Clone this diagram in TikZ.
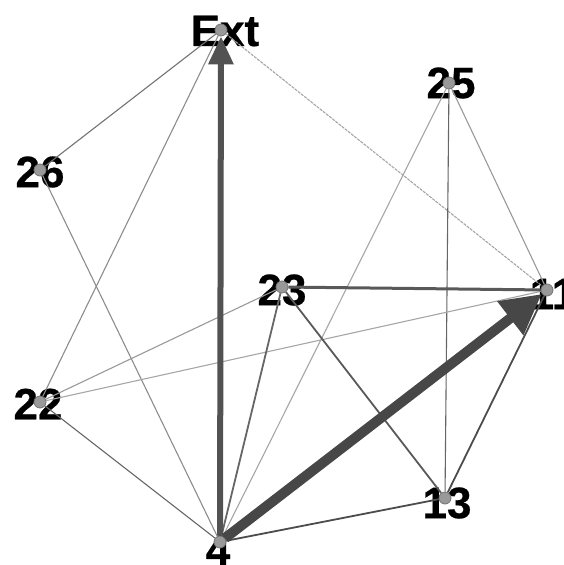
\documentclass[tikz,border=0pt]{standalone}
\usepackage{fontspec}
\setmainfont{Liberation Sans}[BoldFeatures={FakeBold=0.6}]
\usetikzlibrary{arrows.meta}
\pgfdeclarelayer{labels}
\pgfdeclarelayer{edges}
\pgfsetlayers{labels,edges,main}
\tikzset{
  vtx/.style={circle, inner sep=0pt, minimum size=12pt, fill=black!40, draw=black!55, line width=0.8pt},
  vlabel/.style={inner sep=0pt, font=\fontsize{44}{44}\selectfont\bfseries, text=black},
  thinedge/.style={line width=1.1pt, draw=black!#1},
  midedge/.style={line width=1.8pt, draw=black!#1},
  flowA/.style={line width=6pt, draw=black!68, -{Triangle[length=28pt,width=24pt]}},
  flowB/.style={line width=10pt, draw=black!72, -{Triangle[length=40pt,width=40pt]}},
}
\begin{document}
\begin{tikzpicture}[x=1pt,y=-1pt]
\useasboundingbox (0,0) rectangle (564,565);
% vertices
\node[vtx] (ext) at (221,30) {};
\node[vtx] (n25) at (449,83) {};
\node[vtx] (n26) at (40,170) {};
\node[vtx] (n23) at (282,287) {};
\node[vtx] (n11) at (547,290) {};
\node[vtx] (n22) at (40,402) {};
\node[vtx] (n13) at (445,498) {};
\node[vtx] (n4)  at (220,542) {};
% vertex labels
\begin{pgfonlayer}{labels}
\node[vlabel] (lext) at (225,31) {Ext};
\node[vlabel] (l25) at (451,83) {25};
\node[vlabel] (l26) at (40,172) {26};
\node[vlabel] (l23) at (282,290) {23};
\node[vlabel] (l11) at (553,294) {11};
\node[vlabel] (l22) at (38,404) {22};
\node[vlabel] (l13) at (447,503) {13};
\node[vlabel] (l4)  at (218,550) {4};
\end{pgfonlayer}
% connections
\begin{pgfonlayer}{edges}
\draw[thinedge=55] (ext) -- (n26);
\draw[thinedge=45] (ext) -- (n22);
\draw[thinedge=35, dash pattern=on 3pt off 1pt] (ext) -- (n11);
\draw[thinedge=40] (n25) -- (n11);
\draw[thinedge=60] (n25) -- (n13);
\draw[thinedge=35] (n25) -- (n4);
\draw[thinedge=45] (n26) -- (n4);
\draw[thinedge=40] (n23) -- (n22);
\draw[thinedge=35] (n22) -- (n11);
\draw[thinedge=60] (n22) -- (n4);
\draw[midedge=60] (n23) -- (n4);
\draw[midedge=65] (n23) -- (n13);
\draw[midedge=70] (n4) -- (n13);
\draw[midedge=70] (n13) -- (n11);
\draw[line width=3pt, draw=black!65] (n23) -- (n11);
\draw[flowA] (n4) -- (ext);
\draw[flowB] (n4) -- (n11);
\end{pgfonlayer}
\end{tikzpicture}
\end{document}
